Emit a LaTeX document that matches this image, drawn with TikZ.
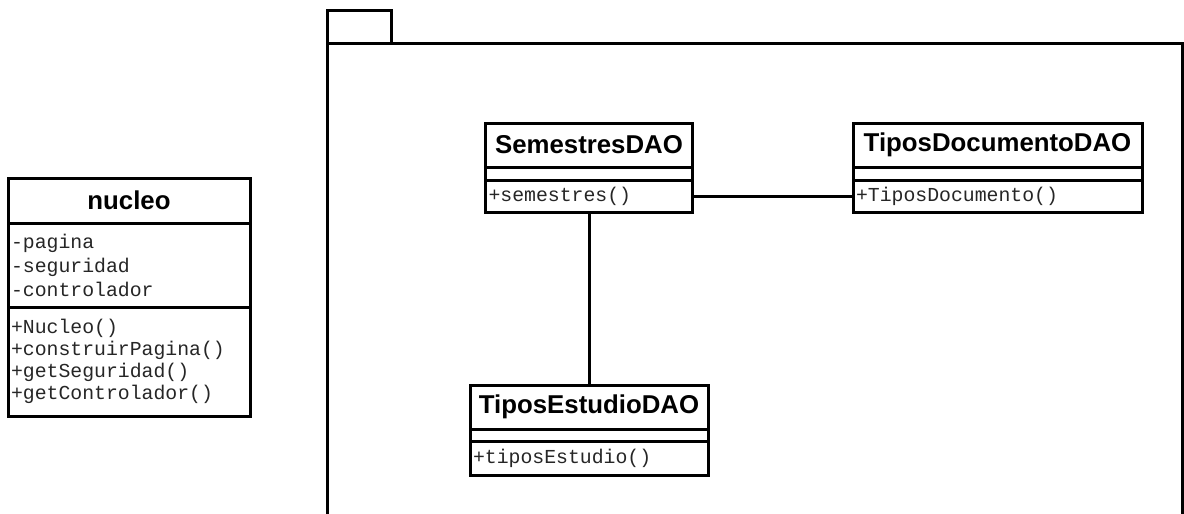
\documentclass[tikz,border=0pt]{standalone}
\usepackage{fontspec}
\setmainfont{Liberation Sans}
\newfontfamily\monof{Liberation Mono}
\usetikzlibrary{positioning}

\begin{document}
\begin{tikzpicture}[
  x=1pt, y=-1pt,
  box/.style={draw=black, line width=3pt, inner sep=0pt, outer sep=0pt},
  head/.style={box, font=\fontsize{25.8}{30}\selectfont\bfseries},
  memb/.style={box, text width=#1, inner xsep=3pt, align=left, text=black!85,
    font=\monof\fontsize{19.8}{23.5}\selectfont},
  link/.style={line width=3pt}
]
  \clip (0,0) rectangle (1184,514);
  \fill[white] (0,0) rectangle (1184,514);

  % package frame
  \node[box, minimum width=855, minimum height=600, anchor=north west] (pkg) at (327,43) {};
  \node[box, minimum width=64, minimum height=33, anchor=south west] (pkgTab) at (pkg.north west) {};

  % nucleo
  \node[head, minimum width=242, minimum height=45] (nucHead) at (129,200.5) {nucleo};
  \node[memb=236, minimum height=84, below=0pt of nucHead,
    font=\monof\fontsize{19.8}{24}\selectfont] (nucAttr) {-pagina\\-seguridad\\-controlador};
  \node[memb=236, minimum height=109, below=0pt of nucAttr,
    font=\monof\fontsize{19.8}{22}\selectfont] (nucOps)
    {+Nucleo()\\+construirPagina()\\+getSeguridad()\\+getControlador()};

  % SemestresDAO
  \node[head, minimum width=207, minimum height=44] (semHead) at (589,145) {SemestresDAO};
  \node[box, minimum width=207, minimum height=13, below=0pt of semHead] (semAttr) {};
  \node[memb=201, minimum height=32, below=0pt of semAttr] (semOps) {+semestres()};

  % TiposDocumentoDAO
  \node[head, minimum width=289, minimum height=44] (tdoHead) at (997.5,145) {TiposDocumentoDAO};
  \node[box, minimum width=289, minimum height=13, below=0pt of tdoHead] (tdoAttr) {};
  \node[memb=283, minimum height=32, below=0pt of tdoAttr] (tdoOps) {+TiposDocumento()};

  % TiposEstudioDAO
  \node[head, minimum width=238, minimum height=44] (tedHead) at (589,407) {TiposEstudioDAO};
  \node[box, minimum width=238, minimum height=12, below=0pt of tedHead] (tedAttr) {};
  \node[memb=232, minimum height=34, below=0pt of tedAttr] (tedOps) {+tiposEstudio()};

  \draw[link] (semOps) -- (tdoOps);
  \draw[link] (semOps) -- (tedHead);
\end{tikzpicture}
\end{document}
